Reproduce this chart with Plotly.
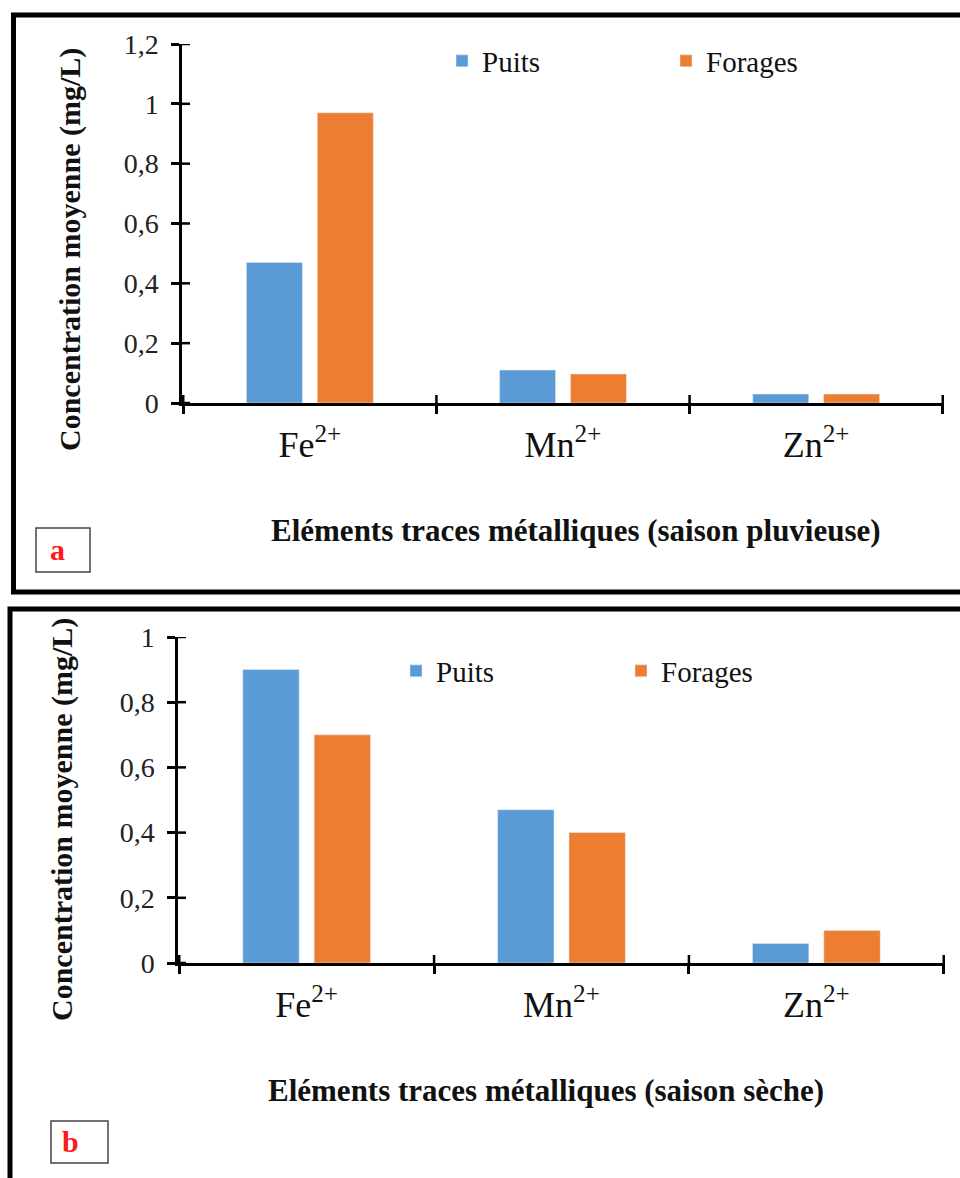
import plotly.graph_objects as go

W, H = 960, 1178


def px(x):
    return x / W


def py(y):
    return 1 - y / H


# ---------------- data ----------------
categories = ["Fe<sup>2+</sup>", "Mn<sup>2+</sup>", "Zn<sup>2+</sup>"]
series_names = ["Puits", "Forages"]

# (a) saison pluvieuse
puits_a = [0.47, 0.11, 0.03]
forages_a = [0.97, 0.097, 0.03]
yticks_a = [0, 0.2, 0.4, 0.6, 0.8, 1.0, 1.2]

# (b) saison sèche
puits_b = [0.90, 0.47, 0.06]
forages_b = [0.70, 0.40, 0.10]
yticks_b = [0, 0.2, 0.4, 0.6, 0.8, 1.0]

ytitle = "Concentration moyenne (mg/L)"
xtitle_a = "Eléments traces métalliques (saison pluvieuse)"
xtitle_b = "Eléments traces métalliques (saison sèche)"

# ---------------- style ----------------
FONT = "Liberation Serif"
BLUE = "#5B9BD5"
ORANGE = "#ED7D31"
INK = "#111111"
AXW = 2.5
TICKLEN = 8

fig = go.Figure()
fig.add_bar(x=categories, y=puits_a, name=series_names[0], marker_color=BLUE,
            xaxis="x", yaxis="y", legend="legend")
fig.add_bar(x=categories, y=forages_a, name=series_names[1], marker_color=ORANGE,
            xaxis="x", yaxis="y", legend="legend")
fig.add_bar(x=categories, y=puits_b, name=series_names[0], marker_color=BLUE,
            xaxis="x2", yaxis="y2", legend="legend2")
fig.add_bar(x=categories, y=forages_b, name=series_names[1], marker_color=ORANGE,
            xaxis="x2", yaxis="y2", legend="legend2")

# plot areas (pixels)
A = dict(x0=182, x1=944, y0=44, y1=403)
B = dict(x0=178, x1=945, y0=637, y1=963)


def xax(box, anchor):
    return dict(
        domain=[px(box["x0"]), px(box["x1"])], anchor=anchor,
        showline=True, linecolor="black", linewidth=AXW,
        ticks="outside", tickson="boundaries", ticklen=TICKLEN,
        tickwidth=AXW, tickcolor="black", showgrid=False,
        tickfont=dict(family=FONT, size=36, color=INK),
        ticklabelstandoff=8, automargin=False,
        fixedrange=True,
    )


def yax(box, anchor, ticks):
    return dict(
        domain=[py(box["y1"]), py(box["y0"])], anchor=anchor,
        range=[0, ticks[-1]], tickvals=ticks,
        showline=True, linecolor="black", linewidth=AXW,
        ticks="outside", ticklen=TICKLEN, tickwidth=AXW, tickcolor="black",
        showgrid=False, zeroline=False,
        tickfont=dict(family=FONT, size=28, color="#222222"),
        ticklabelstandoff=7, automargin=False,
        fixedrange=True,
    )


shapes = []
# inner halves of crossing ticks
for ax_suffix, box, ticks in (("", A, yticks_a), ("2", B, yticks_b)):
    w = box["x1"] - box["x0"]
    h = box["y1"] - box["y0"]
    for v in ticks:
        shapes.append(dict(type="line", xref=f"x{ax_suffix} domain", yref=f"y{ax_suffix}",
                           x0=0, x1=TICKLEN / w, y0=v, y1=v,
                           line=dict(color="black", width=AXW)))
    for i in range(len(categories) + 1):
        shapes.append(dict(type="line", xref=f"x{ax_suffix}", yref=f"y{ax_suffix} domain",
                           x0=i - 0.5, x1=i - 0.5, y0=0, y1=TICKLEN / h,
                           line=dict(color="black", width=AXW)))

# panel borders
shapes.append(dict(type="rect", xref="paper", yref="paper",
                   x0=px(13.5), x1=px(975), y0=py(592), y1=py(15),
                   line=dict(color="black", width=5)))
shapes.append(dict(type="rect", xref="paper", yref="paper",
                   x0=px(10), x1=px(975), y0=py(1195), y1=py(609),
                   line=dict(color="black", width=5)))
# label boxes
shapes.append(dict(type="rect", xref="paper", yref="paper",
                   x0=px(36), x1=px(90), y0=py(572), y1=py(528),
                   line=dict(color="#444444", width=1.5)))
shapes.append(dict(type="rect", xref="paper", yref="paper",
                   x0=px(51), x1=px(108), y0=py(1163), y1=py(1121),
                   line=dict(color="#444444", width=1.5)))

ytitle_font = dict(family=FONT, size=30, color=INK)
xtitle_font = dict(family=FONT, size=31, color=INK)
annotations = [
    dict(text=f"<b>{ytitle}</b>", x=px(70), y=py(250), xref="paper", yref="paper",
         textangle=-90, showarrow=False, font=ytitle_font, xanchor="center", yanchor="middle"),
    dict(text=f"<b>{ytitle}</b>", x=px(62), y=py(820), xref="paper", yref="paper",
         textangle=-90, showarrow=False, font=ytitle_font, xanchor="center", yanchor="middle"),
    dict(text=f"<b>{xtitle_a}</b>", x=px(576), y=py(530), xref="paper", yref="paper",
         showarrow=False, font=xtitle_font, xanchor="center", yanchor="middle"),
    dict(text=f"<b>{xtitle_b}</b>", x=px(546), y=py(1090), xref="paper", yref="paper",
         showarrow=False, font=xtitle_font, xanchor="center", yanchor="middle"),
    dict(text="<b>a</b>", x=px(57), y=py(549), xref="paper", yref="paper",
         showarrow=False, font=dict(family=FONT, size=30, color="#FF1A1A"),
         xanchor="center", yanchor="middle"),
    dict(text="<b>b</b>", x=px(70), y=py(1141), xref="paper", yref="paper",
         showarrow=False, font=dict(family=FONT, size=30, color="#FF1A1A"),
         xanchor="center", yanchor="middle"),
]

legend_common = dict(orientation="h", xanchor="left", yanchor="middle",
                     font=dict(family=FONT, size=29, color=INK),
                     bgcolor="rgba(0,0,0,0)", itemwidth=30,
                     entrywidthmode="pixels", tracegroupgap=0)

fig.update_layout(
    width=W, height=H, autosize=False,
    margin=dict(l=0, r=0, t=0, b=0, pad=0, autoexpand=False),
    paper_bgcolor="white", plot_bgcolor="white",
    separators=",.",
    barmode="group", bargap=0.44, bargroupgap=0.21,
    font=dict(family=FONT, color=INK),
    xaxis=xax(A, "y"), yaxis=yax(A, "x", yticks_a),
    xaxis2=xax(B, "y2"), yaxis2=yax(B, "x2", yticks_b),
    legend=dict(x=px(442), y=py(61), entrywidth=179, **legend_common),
    legend2=dict(x=px(396), y=py(671), entrywidth=180, **legend_common),
    shapes=shapes, annotations=annotations,
)

fig.write_html(
    "out.html",
    config={"responsive": False, "displayModeBar": False},
    post_script="document.body.style.margin='0';document.body.style.overflow='hidden';",
)
